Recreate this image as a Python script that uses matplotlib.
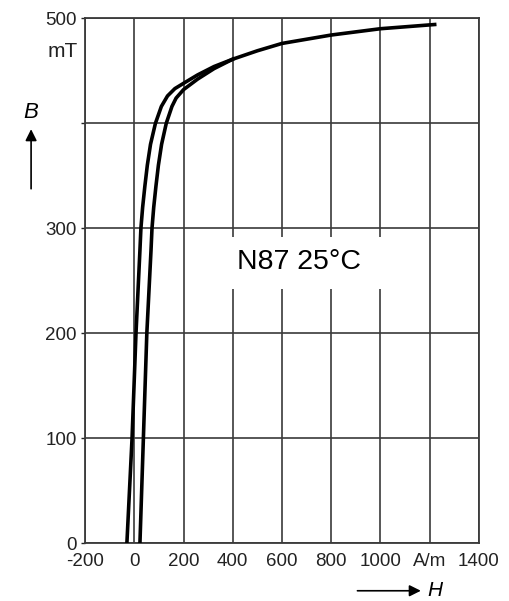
import matplotlib
matplotlib.use("Agg")
import matplotlib.pyplot as plt
from matplotlib.patches import Rectangle

plt.rcParams["font.family"] = ["Liberation Sans", "DejaVu Sans"]

# descending branch (left curve), H in A/m, B in mT
H_DOWN = [-30, -9, 7, 23, 27, 34, 43, 53, 66, 86, 110, 135, 165, 200, 257, 324, 400, 500, 600, 800, 1000, 1220]
B_DOWN = [0, 100, 200, 279, 300, 320, 340, 360, 380, 400, 416, 426, 433, 438, 446, 454, 461, 469, 476, 484, 490, 494]
# ascending branch (right curve)
H_UP = [23, 37, 51, 68, 72, 79, 88, 98, 111, 130, 153, 170, 200, 257, 324, 400]
B_UP = [0, 100, 200, 279, 300, 320, 340, 360, 380, 400, 416, 424, 432, 442, 452, 461]

X_TICKS = [-200, 0, 200, 400, 600, 800, 1000, 1200, 1400]
X_LABELS = ["-200", "0", "200", "400", "600", "800", "1000", "A/m", "1400"]
Y_TICKS = [0, 100, 200, 300, 400, 500]
Y_LABELS = ["0", "100", "200", "300", "", "500"]

fig = plt.figure(figsize=(5.1, 6.01), dpi=100)
ax = fig.add_axes([0.1667, 0.0957, 0.7725, 0.874])

ax.plot(H_DOWN, B_DOWN, color="black", lw=2.6, solid_joinstyle="round", zorder=4)
ax.plot(H_UP, B_UP, color="black", lw=2.6, solid_joinstyle="round", zorder=4)

ax.set_xlim(-200, 1400)
ax.set_ylim(0, 500)
ax.set_xticks(X_TICKS)
ax.set_xticklabels(X_LABELS)
ax.set_yticks(Y_TICKS)
ax.set_yticklabels(Y_LABELS)
ax.tick_params(axis="x", length=0, pad=7, labelsize=13.5, colors="#222222")
ax.tick_params(axis="y", length=3, width=1, pad=3, labelsize=13.5, colors="#222222")
ax.grid(True, color="#3a3a3a", lw=1.2)
ax.set_axisbelow(True)
for s in ax.spines.values():
    s.set_color("#3a3a3a")
    s.set_linewidth(1.3)

# white label box interrupting the grid
ax.add_patch(Rectangle((330, 242), 730, 50, facecolor="white", edgecolor="none", zorder=2))
ax.text(667, 268, "N87 25°C", fontsize=20.5, ha="center", va="center", zorder=3)

# axis units and quantity labels
ax.text(-228, 468, "mT", fontsize=15, ha="right", va="center", color="#222222")
ax.text(-419, 410, "B", fontsize=16, style="italic", ha="center", va="center")
ax.annotate("", xy=(-419, 397), xytext=(-419, 335), annotation_clip=False,
            arrowprops=dict(arrowstyle="-|>", color="black", lw=1.2, mutation_scale=17))
ax.annotate("", xy=(1175, -45), xytext=(895, -45), annotation_clip=False,
            arrowprops=dict(arrowstyle="-|>", color="black", lw=1.2, mutation_scale=17))
ax.text(1190, -45, "H", fontsize=15, style="italic", ha="left", va="center")

fig.savefig("out.png", dpi=100)
